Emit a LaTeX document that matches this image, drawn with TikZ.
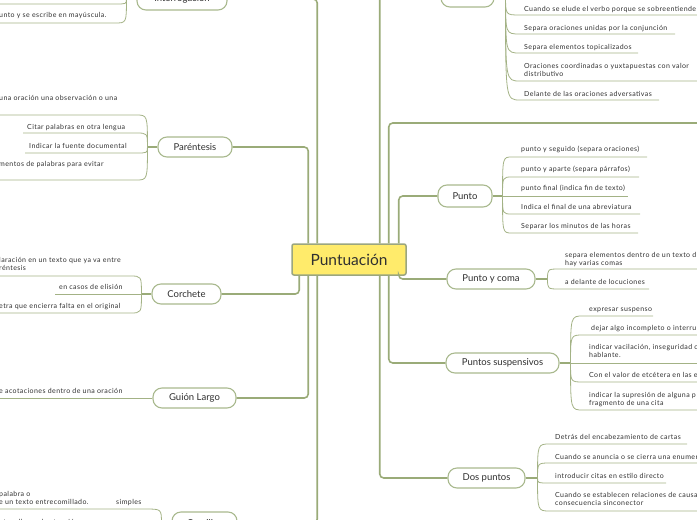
\documentclass[tikz,border=0pt]{standalone}
\usepackage{fontspec}
\setmainfont{Lato}
\newfontfamily\chf{Lato}[LetterSpace=6]
\definecolor{trunkc}{HTML}{9AAB78}
\definecolor{childc}{HTML}{A3B285}
\definecolor{nodec}{HTML}{A9B98E}
\definecolor{centerf}{HTML}{FFEB6B}
\definecolor{centerb}{HTML}{9BA67F}
\definecolor{textc}{HTML}{303030}
% #1 junction, #2 underline y, #3 curve end x, #4 underline end x, #5 text x, #6 text baseline y, #7 text
\newcommand\rch[7]{%
  \draw[cline] (#1) .. controls (#1 |- 0,#2) .. (#3,#2) -- (#4,#2);
  \node[ctext] at (#5,#6) {#7};}
\newcommand\twoline[2]{\parbox[b]{320pt}{#1\\#2}}
\begin{document}
\begin{tikzpicture}[x=1pt,y=-1pt,
  trunk/.style={draw=trunkc, line width=1.6pt, rounded corners=4pt},
  stub/.style={draw=trunkc, line width=1.2pt},
  cline/.style={draw=childc, line width=0.8pt},
  topic/.style={draw=nodec, line width=1.1pt, fill=white, rounded corners=9pt,
    minimum height=20pt, inner sep=0pt, font=\fontsize{9.5}{11}\selectfont, text=textc},
  ctext/.style={font=\chf\fontsize{7}{8.5}\selectfont, text=textc, inner sep=0pt, anchor=base west},
]
\useasboundingbox (0,0) rectangle (697,520);
\clip (0,0) rectangle (697,520);

% central node
\node[draw=centerb, fill=centerf, line width=1.5pt, rounded corners=2pt,
  minimum width=114pt, minimum height=31pt, inner sep=0pt,
  font=\fontsize{15.5}{18}\selectfont, text=textc] (c) at (349,259.5) {Puntuación};

% main topics
\node[topic, minimum width=90pt, minimum height=22pt] (inte) at (182,-1) {Interrogación};
\node[topic, minimum width=74pt] (pare) at (195,147) {Paréntesis};
\node[topic, minimum width=69pt] (corc) at (186.5,294) {Corchete};
\node[topic, minimum width=83pt] (guio) at (194.5,398) {Guión Largo};
\node[topic, minimum width=65pt, minimum height=22pt] (comi) at (204.5,523) {Comillas};
\node[topic, minimum width=53pt, minimum height=22pt] (coma) at (467.5,-4) {};
\node[topic, minimum width=54pt, minimum height=22pt] (punt) at (465,196) {Punto};
\node[topic, minimum width=88pt] (pyc) at (491,279) {Punto y coma};
\node[topic, minimum width=113pt] (psus) at (502.5,363) {Puntos suspensivos};
\node[topic, minimum width=77pt] (dosp) at (486.5,478) {Dos puntos};
\coordinate (far) at (710,123);

% trunk connectors
\draw[trunk] (inte.east) -| ([xshift=26pt]c.north west);
\draw[trunk] (pare.east) -| ([xshift=17pt]c.north west);
\draw[trunk] (corc.east) -| ([xshift=8pt]c.south west);
\draw[trunk] (guio.east) -| ([xshift=17pt]c.south west);
\draw[trunk] (comi.east) -| ([xshift=26pt]c.south west);
\draw[trunk] (coma.west) -| ([xshift=-27pt]c.north east);
\draw[trunk] (far) -| ([xshift=-18pt]c.north east);
\draw[trunk] (punt.west) -| ([xshift=-8pt]c.north east);
\draw[trunk] (pyc.west) -| ([xshift=-8pt]c.south east);
\draw[trunk] (psus.west) -| ([xshift=-18pt]c.south east);
\draw[trunk] (dosp.west) -| ([xshift=-27pt]c.south east);

% junctions
\coordinate (jcoma) at ([xshift=11pt]coma.east);
\coordinate (jpunt) at ([xshift=10pt]punt.east);
\coordinate (jpyc) at ([xshift=12pt]pyc.east);
\coordinate (jps) at ([xshift=11pt]psus.east);
\coordinate (jdp) at ([xshift=12pt]dosp.east);
\coordinate (jint) at ([xshift=-10pt]inte.west);
\coordinate (jpar) at ([xshift=-10pt]pare.west);
\coordinate (jcor) at ([xshift=-10pt]corc.west);
\coordinate (jcom) at ([xshift=-10pt]comi.west);
\draw[stub] (coma.east) -- (jcoma);
\draw[stub] (punt.east) -- (jpunt);
\draw[stub] (pyc.east) -- (jpyc);
\draw[stub] (psus.east) -- (jps);
\draw[stub] (dosp.east) -- (jdp);
\draw[stub] (inte.west) -- (jint);
\draw[stub] (pare.west) -- (jpar);
\draw[stub] (corc.west) -- (jcor);
\draw[stub] (comi.west) -- (jcom);

% Coma
\rch{jcoma}{15}{520}{710}{524}{11.5}{Cuando se elude el verbo porque se sobreentiende}
\rch{jcoma}{34}{520}{675}{524}{30.5}{Separa oraciones unidas por la conjunción}
\rch{jcoma}{53}{520}{638}{524}{49.5}{Separa elementos topicalizados}
\rch{jcoma}{81}{520}{710}{524}{76.5}{\twoline{Oraciones coordinadas o yuxtapuestas con valor}{distributivo}}
\rch{jcoma}{100}{520}{659}{524}{96.5}{Delante de las oraciones adversativas}

% Punto
\rch{jpunt}{157}{512}{647}{521}{151.5}{punto y seguido (separa oraciones)}
\rch{jpunt}{177}{512}{639}{521}{171.5}{punto y aparte (separa párrafos)}
\draw[cline] (jpunt) -- (628,196);
\node[ctext] (pf) at (521,190.5) {punto final (indica fin de texto)};
\rch{jpunt}{214}{512}{640}{521}{209.5}{Indica el final de una abreviatura}
\rch{jpunt}{233}{512}{638}{521}{228.5}{Separar los minutos de las horas}

% Punto y coma
\rch{jpyc}{269}{560}{710}{565}{265.5}{\twoline{separa elementos dentro de un texto d}{hay varias comas}}
\rch{jpyc}{289}{560}{649}{565}{284.5}{a delante de locuciones}

% Puntos suspensivos
\rch{jps}{316}{583}{653}{589}{311.5}{expresar suspenso}
\rch{jps}{335}{583}{710}{591}{330.5}{dejar algo incompleto o interru}
\draw[cline] (jps) -- (710,363);
\node[ctext] (vac) at (589,357.5) {\twoline{indicar vacilación, inseguridad o}{hablante.}};
\rch{jps}{382}{583}{710}{589}{377.5}{Con el valor de etcétera en las e}
\rch{jps}{410}{583}{710}{589}{405.5}{\twoline{indicar la supresión de alguna p}{fragmento de una cita}}

% Dos puntos
\rch{jdp}{444}{550}{687}{555}{439.5}{Detrás del encabezamiento de cartas}
\rch{jdp}{463}{550}{710}{555}{459.5}{Cuando se anuncia o se cierra una enumer}
\rch{jdp}{483}{550}{666}{555}{478.5}{introducir citas en estilo directo}
\rch{jdp}{511}{550}{710}{555}{505.5}{\twoline{Cuando se establecen relaciones de causa}{consecuencia sinconector}}

% Interrogacion
\draw[cline] (jint) .. controls (jint |- 0,4) .. (115,4) -- (-5,4);
\rch{jint}{23}{115}{-5}{-1}{17.5}{unto y se escribe en mayúscula.}

% Parentesis
\rch{jpar}{115}{136}{-5}{-1}{100.5}{una oración una observación o una}
\rch{jpar}{133}{136}{23}{27}{129.5}{Citar palabras en otra lengua}
\rch{jpar}{153}{136}{25}{29}{148.5}{Indicar la fuente documental}
\rch{jpar}{180}{136}{-5}{-1}{166.5}{mentos de palabras para evitar}

% Corchete
\rch{jcor}{276}{130}{-5}{-1}{270.5}{\twoline{laración en un texto que ya va entre}{réntesis}}
\draw[cline] (jcor) -- (55,294);
\node[ctext] (eli) at (59,289.5) {en casos de elisión};
\rch{jcor}{313}{130}{-5}{-1}{308.5}{etra que encierra falta en el original}

% Guion largo
\draw[cline] (guio.west) -- (-5,398);
\node[ctext] (aco) at (-1,393.5) {e acotaciones dentro de una oración};

% Comillas
\rch{jcom}{509}{145}{-5}{-1}{504.5}{\twoline{palabra o}{e un texto entrecomillado.}}
\node[ctext] (sim) at (116,504.5) {simples};
\node[ctext] (lla) at (-1,524) {nto o llamar la atención};
\end{tikzpicture}
\end{document}
